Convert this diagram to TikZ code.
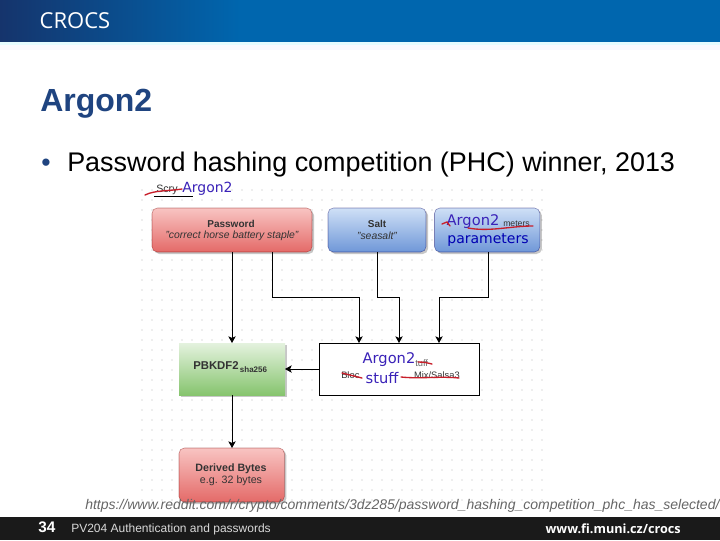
\documentclass[tikz,border=0pt]{standalone}
\usepackage{fontspec}
\setmainfont{Liberation Sans}
\newfontfamily\handfont{DejaVu Sans}
\newfontfamily\logofont{Open Sans}
\usetikzlibrary{arrows.meta,shadows}
\definecolor{navy}{HTML}{15346C}
\definecolor{hblue}{HTML}{0066AE}
\definecolor{titleblue}{HTML}{1F4480}
\definecolor{inkblue}{HTML}{3A22B8}
\definecolor{inkred}{HTML}{C81E2A}
\definecolor{footbg}{HTML}{1A1A1A}
\definecolor{greentop}{HTML}{E4F2DE}
\definecolor{greenbot}{HTML}{86C46E}
\definecolor{bluetop}{HTML}{CFE0F6}
\definecolor{bluebot}{HTML}{6F97D8}
\definecolor{redtop}{HTML}{F8C4C2}
\definecolor{redbot}{HTML}{E46A68}
\tikzset{
  base/.style={inner sep=0pt,outer sep=0pt,anchor=north west,rounded corners=4pt,draw opacity=.45,
    drop shadow={shadow xshift=1.5pt,shadow yshift=-1.5pt,fill=black,opacity=.22}},
  redbox/.style={base,draw=red!50!black,top color=redtop,bottom color=redbot},
  bluebox/.style={base,draw=blue!40!black,top color=bluetop,bottom color=bluebot},
  greenbox/.style={base,rounded corners=0pt,draw=none,top color=greentop,bottom color=greenbot},
  plainbox/.style={inner sep=0pt,outer sep=0pt,anchor=north west,draw=black,line width=.7pt,fill=white},
  conn/.style={draw=black,line width=.75pt,-{Stealth[length=5pt,width=5.5pt,inset=1.2pt]}},
  lab/.style={inner sep=0pt,font=\fontsize{7}{8}\selectfont,text=black!80},
  ink/.style={inner sep=0pt,text=inkblue,font=\handfont\fontsize{11}{12}\selectfont},
  redstroke/.style={draw=inkred,line width=1pt,line cap=round},
  griddot/.style={fill=black!28,draw=none}
}
\begin{document}
\begin{tikzpicture}[x=0.75pt,y=-0.75pt]
\useasboundingbox (0,0) rectangle (720,540);
\fill[white] (0,0) rectangle (720,540);
% header
\shade[left color=navy,right color=hblue] (0,0) rectangle (240,42);
\fill[hblue] (240,0) rectangle (720,42);
\fill[blue!12!cyan!10!white] (0,42) rectangle (720,45);
\fill[black!9!blue!2!white] (0,45) rectangle (720,50);
\node[inner sep=0pt,text=white,font=\logofont\fontsize{16.5}{17}\selectfont] (logo) at (75,21) {CROCS};
% title
\node[inner sep=0pt,anchor=west,text=titleblue,font=\bfseries\fontsize{24}{26}\selectfont] (title) at (40,104) {Argon2};
\node[inner sep=0pt,text=titleblue,font=\fontsize{20}{22}\selectfont] (bullet) at (46,165) {•};
\node[inner sep=0pt,anchor=west,text=black,font=\fontsize{20.2}{22}\selectfont] (line) at (67,165) {Password hashing competition (PHC) winner, 2013};
% dot grid
\foreach \x in {142,152,...,550} \foreach \y in {190,200,...,500} \fill[griddot] (\x,\y) circle [radius=.4pt];
% boxes
\node[redbox,minimum width=120pt,minimum height=33pt] (pw) at (152,208) {};
\node[bluebox,minimum width=73.5pt,minimum height=33pt] (salt) at (328,208) {};
\node[bluebox,minimum width=79pt,minimum height=33pt] (params) at (434.5,208) {};
\node[greenbox,minimum width=79.5pt,minimum height=39pt] (pbkdf) at (179,343) {};
\node[plainbox,minimum width=120pt,minimum height=39pt] (argon) at (319,343) {};
\node[redbox,minimum width=79pt,minimum height=40.5pt] (derived) at (179,448) {};
% box texts
\node[lab,font=\bfseries\fontsize{7.5}{8}\selectfont] (pwa) at (231,224) {Password};
\node[lab,font=\itshape\fontsize{7.8}{8}\selectfont] (pwb) at (232,236) {"correct horse battery staple"};
\node[lab,font=\bfseries\fontsize{7.5}{8}\selectfont] (sa) at (377,224) {Salt};
\node[lab,font=\itshape\fontsize{7.8}{8}\selectfont] (sb) at (377,236) {"seasalt"};
\node[lab,anchor=east,font=\fontsize{6.5}{7}\selectfont] (pm) at (530,224) {meters};
\node[ink,font=\handfont\fontsize{11}{12}\selectfont] (pa) at (473,222) {Argon2};
\node[ink,font=\handfont\fontsize{10.5}{12}\selectfont,text=blue!70!black] (pc) at (488,240) {parameters};
\draw[redstroke] (442,224) -- (447,222) -- (450,226);
\draw[redstroke] (468,228) .. controls (490,232) and (510,226) .. (533,226);
\node[lab,font=\bfseries\fontsize{8.5}{9}\selectfont,anchor=west] (pb) at (193,367) {PBKDF2\raisebox{-2pt}{\fontsize{6}{7}\selectfont\,sha256}};
\node[lab,font=\bfseries\fontsize{8}{9}\selectfont] (da) at (231,469) {Derived Bytes};
\node[lab,font=\fontsize{8}{9}\selectfont] (db) at (231,481) {e.g. 32 bytes};
\node[lab,anchor=west] (al) at (341,375) {Bloc};
\node[lab,anchor=east] (am) at (460,375) {Mix/Salsa3};
\node[lab,anchor=west,text=black!60] (as) at (415,363) {tuff};
\node[ink] (aa) at (389,360) {Argon2};
\node[ink] (ab) at (382,378) {stuff};
\draw[redstroke] (418,362) .. controls (425,362) and (428,363) .. (432,364);
\draw[redstroke] (342,373) -- (362,378);
\draw[redstroke] (401,377) .. controls (420,379) and (440,376) .. (459,378);
% scrypt heading
\node[lab,anchor=west,font=\fontsize{8}{9}\selectfont] (sc) at (156,190) {Scry};
\node[ink,anchor=west,font=\handfont\fontsize{10.5}{12}\selectfont] (sh) at (182,189) {Argon2};
\draw[black,line width=.5pt] (154,196) -- (193,196);
\draw[redstroke] (145,195) .. controls (155,190) and (170,191) .. (182,189);
% connectors
\draw[conn] (232,252) -- (pbkdf.north -| 232,0);
\draw[conn] (272,252) -- (272,297) -- (359,297) -- (359,343);
\draw[conn] (377,252) -- (377,297) -- (399,297) -- (399,343);
\draw[conn] (488,252) -- (488,297) -- (439,297) -- (439,343);
\draw[conn] (argon.west |- 0,369) -- (pbkdf.east |- 0,369);
\draw[conn] (232,395) -- (derived.north -| 232,0);
% source
\node[inner sep=0pt,anchor=west,text=black!60,font=\itshape\fontsize{10.5}{12}\selectfont] (src) at (85,506) {https://www.reddit.com/r/crypto/comments/3dz285/password\_hashing\_competition\_phc\_has\_selected/};
% footer
\fill[footbg] (0,517) rectangle (720,540);
\node[inner sep=0pt,text=white,font=\bfseries\fontsize{11.5}{12}\selectfont] (num) at (47,527) {34};
\node[inner sep=0pt,anchor=west,text=black!15,font=\fontsize{9}{10}\selectfont] (foot) at (71,529) {PV204 Authentication and passwords};
\node[inner sep=0pt,anchor=east,text=white,font=\logofont\bfseries\fontsize{9.5}{10}\selectfont] (url) at (681,529) {www.fi.muni.cz/crocs};
\end{tikzpicture}
\end{document}
